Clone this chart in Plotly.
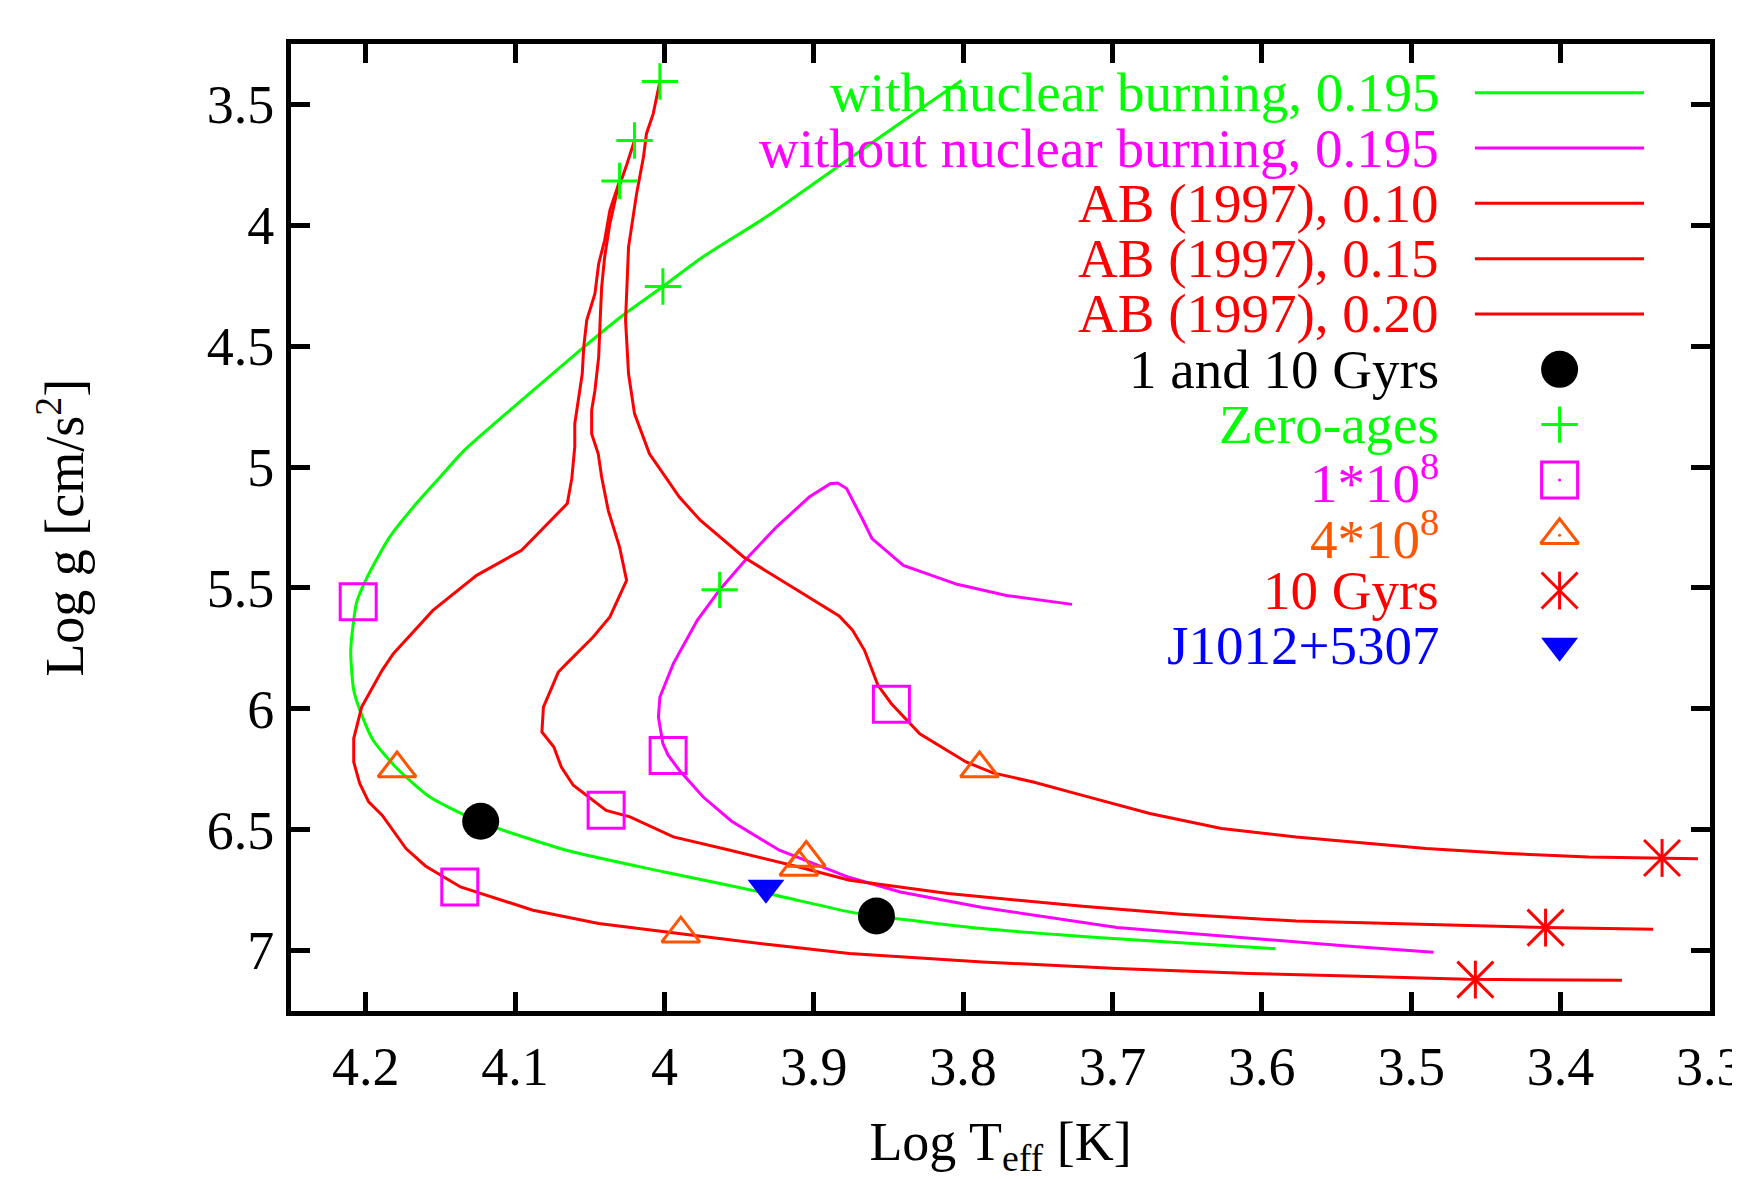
import plotly.graph_objects as go

# ---------------- data ----------------
# Evolutionary track with nuclear burning, 0.195 Msun
green_x = [3.801, 3.830, 3.8875, 3.932, 3.976, 4.001, 4.028, 4.054, 4.101, 4.134, 4.150, 4.166,
           4.184, 4.199, 4.206, 4.210, 4.208, 4.203, 4.195, 4.179, 4.157, 4.1235, 4.0655, 4.0,
           3.93, 3.876, 3.8584, 3.787, 3.697, 3.591]
green_y = [3.401, 3.525, 3.773, 3.966, 4.138, 4.253, 4.373, 4.504, 4.752, 4.931, 5.040, 5.150,
           5.290, 5.455, 5.558, 5.758, 5.923, 6.020, 6.130, 6.247, 6.365, 6.468, 6.585, 6.675,
           6.765, 6.840, 6.857, 6.909, 6.951, 6.992]

# Track without nuclear burning, 0.195 Msun
mag_x = [3.727, 3.771, 3.804, 3.840, 3.861, 3.867, 3.878, 3.884, 3.889, 3.903, 3.925, 3.945,
         3.963, 3.978, 3.994, 4.003, 4.004, 4.001, 3.9975, 3.990, 3.974, 3.955, 3.923, 3.876,
         3.842, 3.787, 3.697, 3.608, 3.541, 3.485]
mag_y = [5.568, 5.531, 5.485, 5.407, 5.296, 5.220, 5.089, 5.066, 5.069, 5.124, 5.248, 5.379,
         5.508, 5.634, 5.813, 5.951, 6.034, 6.144, 6.192, 6.254, 6.365, 6.465, 6.585, 6.698,
         6.758, 6.822, 6.905, 6.950, 6.982, 7.007]

# AB (1997) tracks
ab010_x = [4.003, 4.0075, 4.012, 4.014, 4.0186, 4.024, 4.026, 4.024, 4.020, 4.010, 3.9985, 3.990,
           3.976, 3.947, 3.909, 3.883, 3.874, 3.866, 3.857, 3.848, 3.829, 3.798, 3.780, 3.753,
           3.720, 3.675, 3.627, 3.577, 3.490, 3.435, 3.381, 3.332, 3.308]
ab010_y = [3.405, 3.539, 3.621, 3.718, 3.869, 4.090, 4.393, 4.614, 4.779, 4.945, 5.048, 5.124,
           5.220, 5.372, 5.517, 5.616, 5.675, 5.758, 5.903, 5.979, 6.103, 6.220, 6.265, 6.303,
           6.358, 6.433, 6.495, 6.530, 6.578, 6.599, 6.613, 6.617, 6.620]

ab015_x = [4.020, 4.025, 4.032, 4.0365, 4.040, 4.042, 4.043, 4.044, 4.0465, 4.0487, 4.0487, 4.0443,
           4.042, 4.0376, 4.030, 4.0253, 4.0365, 4.0477, 4.0655, 4.071, 4.081, 4.082, 4.074, 4.069,
           4.061, 4.039, 4.023, 3.994, 3.956, 3.910, 3.876, 3.810, 3.720, 3.654, 3.577, 3.490,
           3.410, 3.338]
ab015_y = [3.649, 3.745, 3.869, 3.993, 4.131, 4.256, 4.393, 4.545, 4.683, 4.765, 4.862, 4.945,
           5.041, 5.179, 5.331, 5.469, 5.620, 5.703, 5.813, 5.848, 5.993, 6.096, 6.158, 6.241,
           6.316, 6.420, 6.447, 6.530, 6.585, 6.654, 6.709, 6.764, 6.817, 6.850, 6.878, 6.891,
           6.905, 6.912]

ab020_x = [4.030, 4.0365, 4.040, 4.044, 4.0465, 4.052, 4.054, 4.055, 4.060, 4.060, 4.062, 4.065,
           4.0956, 4.1257, 4.155, 4.1815, 4.189, 4.2027, 4.208, 4.208, 4.204, 4.198, 4.189, 4.173,
           4.160, 4.1365, 4.088, 4.044, 3.989, 3.930, 3.876, 3.787, 3.697, 3.608, 3.541, 3.4627,
           3.3588]
ab020_y = [3.817, 3.938, 4.062, 4.159, 4.283, 4.393, 4.504, 4.614, 4.821, 4.917, 5.048, 5.151,
           5.344, 5.448, 5.593, 5.772, 5.841, 5.993, 6.123, 6.220, 6.309, 6.385, 6.440, 6.578,
           6.650, 6.737, 6.833, 6.888, 6.930, 6.975, 7.012, 7.047, 7.074, 7.095, 7.105, 7.119,
           7.123]

# Point sets
gyr_x = [4.123, 3.858]            # 1 and 10 Gyrs
gyr_y = [6.465, 6.857]
zero_x = [4.003, 4.020, 4.030, 4.001, 3.963]   # zero-ages
zero_y = [3.405, 3.649, 3.817, 4.253, 5.508]
e8_1_x = [4.205, 4.137, 4.039, 3.9975, 3.848]  # 1*10^8
e8_1_y = [5.557, 6.737, 6.420, 6.193, 5.981]
e8_4_x = [4.179, 3.989, 3.910, 3.905, 3.789]   # 4*10^8
e8_4_y = [6.247, 6.930, 6.654, 6.617, 6.247]
gyr10_x = [3.332, 3.410, 3.457]                # 10 Gyrs
gyr10_y = [6.617, 6.905, 7.120]
j1012_x = [3.932]                               # J1012+5307
j1012_y = [6.740]

x_ticks = [4.2, 4.1, 4.0, 3.9, 3.8, 3.7, 3.6, 3.5, 3.4, 3.3]
x_ticklabels = ["4.2", "4.1", "4", "3.9", "3.8", "3.7", "3.6", "3.5", "3.4", "3.3"]
y_ticks = [3.5, 4.0, 4.5, 5.0, 5.5, 6.0, 6.5, 7.0]
y_ticklabels = ["3.5", "4", "4.5", "5", "5.5", "6", "6.5", "7"]

legend_labels = ["with nuclear burning, 0.195", "without nuclear burning, 0.195",
                 "AB (1997), 0.10", "AB (1997), 0.15", "AB (1997), 0.20",
                 "1 and 10 Gyrs", "Zero-ages", "1*10<sup>8</sup>", "4*10<sup>8</sup>",
                 "10 Gyrs", "J1012+5307"]

x_title = "Log T<sub>eff</sub> [K]"
y_title = "Log g [cm/s<sup>2</sup>]"

# ---------------- styles ----------------
FONT = "Liberation Serif"
GREEN = "#00ff00"
MAGENTA = "#ff00ff"
RED = "#ff0000"
ORANGE = "#ff5500"
BLUE = "#0000ff"
BLACK = "#000000"
LW = 3

legend_colors = [GREEN, MAGENTA, RED, RED, RED, BLACK, GREEN, MAGENTA, ORANGE, RED, BLUE]

fig = go.Figure()


def add_line(x, y, color, xa="x", ya="y", smooth=False):
    ln = dict(color=color, width=LW)
    if smooth:
        ln.update(shape="spline", smoothing=0.6)
    fig.add_trace(go.Scatter(x=x, y=y, mode="lines", line=ln,
                             showlegend=False, hoverinfo="skip", xaxis=xa, yaxis=ya))


def add_marks(x, y, symbol, size, color, filled=False, xa="x", ya="y"):
    if filled:
        mk = dict(symbol=symbol, size=size, color=color, line=dict(width=0))
    else:
        mk = dict(symbol=symbol, size=size, color=color, line=dict(color=color, width=LW))
    fig.add_trace(go.Scatter(x=x, y=y, mode="markers", marker=mk,
                             showlegend=False, hoverinfo="skip", xaxis=xa, yaxis=ya))


add_line(green_x, green_y, GREEN, smooth=True)
add_line(mag_x, mag_y, MAGENTA)
add_line(ab010_x, ab010_y, RED)
add_line(ab015_x, ab015_y, RED)
add_line(ab020_x, ab020_y, RED)

SZ_CIRC, SZ_CROSS, SZ_SQ, SZ_TRI, SZ_NS, SZ_X, SZ_TRID = 37, 26, 36, 33, 27, 36, 32

add_marks(gyr_x, gyr_y, "circle", SZ_CIRC, BLACK, filled=True)
add_marks(zero_x, zero_y, "cross-thin-open", SZ_CROSS, GREEN)
add_marks(e8_1_x, e8_1_y, "square-open", SZ_SQ, MAGENTA)
add_marks(e8_4_x, e8_4_y, "triangle-up-open", SZ_TRI, ORANGE)
add_marks(gyr10_x, gyr10_y, "line-ns-open", SZ_NS, RED)
add_marks(gyr10_x, gyr10_y, "x-thin-open", SZ_X, RED)
add_marks(j1012_x, j1012_y, "triangle-down", SZ_TRID, BLUE, filled=True)

# ---------------- key (drawn on a helper 0..1 axis over the plot area) ----------------
row0 = 0.9496
drow = 0.0572
text_right = 0.8105
samp_x0, samp_x1 = 0.8343, 0.9535
sym_x = 0.8940
rows = [row0 - i * drow for i in range(len(legend_labels))]

for i in range(5):
    add_line([samp_x0, samp_x1], [rows[i], rows[i]], legend_colors[i], xa="x2", ya="y2")
add_marks([sym_x], [rows[5]], "circle", SZ_CIRC, BLACK, filled=True, xa="x2", ya="y2")
add_marks([sym_x], [rows[6]], "cross-thin-open", SZ_CROSS, GREEN, xa="x2", ya="y2")
add_marks([sym_x], [rows[7]], "square-open", SZ_SQ, MAGENTA, xa="x2", ya="y2")
add_marks([sym_x], [rows[7]], "circle", 3, MAGENTA, filled=True, xa="x2", ya="y2")
add_marks([sym_x], [rows[8]], "triangle-up-open", SZ_TRI, ORANGE, xa="x2", ya="y2")
add_marks([sym_x], [rows[8]], "circle", 3, ORANGE, filled=True, xa="x2", ya="y2")
add_marks([sym_x], [rows[9]], "line-ns-open", SZ_NS, RED, xa="x2", ya="y2")
add_marks([sym_x], [rows[9]], "x-thin-open", SZ_X, RED, xa="x2", ya="y2")
add_marks([sym_x], [rows[10]], "triangle-down", SZ_TRID, BLUE, filled=True, xa="x2", ya="y2")

annotations = []
for lab, col, ry in zip(legend_labels, legend_colors, rows):
    annotations.append(dict(text=lab, x=text_right, y=ry, xref="x2", yref="y2",
                            xanchor="right", yanchor="middle", showarrow=False,
                            font=dict(family=FONT, size=55, color=col)))

# y-axis title placed as a rotated annotation left of the tick labels
annotations.append(dict(text=y_title, x=-0.162, y=0.5, xref="paper", yref="paper",
                        xanchor="center", yanchor="middle", textangle=-90, showarrow=False,
                        font=dict(family=FONT, size=54, color=BLACK)))

axis_common = dict(showgrid=False, zeroline=False, showline=True, linecolor=BLACK,
                   linewidth=5, mirror="ticks", ticks="inside", ticklen=19, tickwidth=5,
                   tickcolor=BLACK, automargin=False, ticklabeloverflow="allow",
                   tickfont=dict(family=FONT, size=54, color=BLACK))

# the page body adds an 8 px offset, so the figure is 8 px smaller than the window
fig.update_layout(
    template="none",
    width=1732, height=1171,
    margin=dict(l=283, r=30, t=36, b=168, autoexpand=False),
    paper_bgcolor="white", plot_bgcolor="white",
    showlegend=False,
    xaxis=dict(range=[4.25, 3.2999], tickvals=x_ticks, ticktext=x_ticklabels,
               ticklabelstandoff=4,
               title=dict(text=x_title, standoff=35,
                          font=dict(family=FONT, size=54, color=BLACK)),
               **axis_common),
    yaxis=dict(range=[7.25, 3.25], tickvals=y_ticks, ticktext=y_ticklabels,
               ticklabelstandoff=1, **axis_common),
    xaxis2=dict(range=[0, 1], overlaying="x", visible=False, fixedrange=True),
    yaxis2=dict(range=[0, 1], overlaying="y", visible=False, fixedrange=True),
    annotations=annotations,
)

fig.write_html("out.html")
